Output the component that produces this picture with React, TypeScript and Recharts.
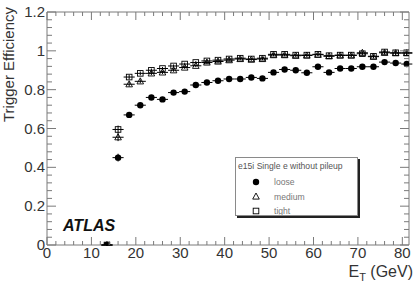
import { ErrorBar, Legend, ReferenceArea, Scatter, ScatterChart, XAxis, YAxis } from 'recharts'

// E_T bin centres (GeV) and trigger efficiencies
const etBins = [13.5, 16, 18.5, 21, 23.5, 26, 28.5, 31, 33.5, 36, 38.5, 41, 43.5, 46, 48.5, 51, 53.5, 56, 58.5, 61, 63.5, 66, 68.5, 71, 73.5, 76, 78.5, 81]
const looseEff = [0.0, 0.45, 0.67, 0.72, 0.76, 0.75, 0.785, 0.79, 0.824, 0.837, 0.846, 0.855, 0.855, 0.863, 0.858, 0.889, 0.904, 0.9, 0.887, 0.918, 0.889, 0.909, 0.909, 0.918, 0.918, 0.942, 0.937, 0.932]
const mediumEff = [0.0, 0.555, 0.828, 0.843, 0.884, 0.889, 0.9, 0.914, 0.923, 0.94, 0.945, 0.952, 0.958, 0.955, 0.958, 0.978, 0.978, 0.975, 0.976, 0.98, 0.972, 0.976, 0.976, 0.99, 0.97, 0.99, 0.988, 0.988]
const tightEff = [0.0, 0.595, 0.865, 0.884, 0.9, 0.909, 0.922, 0.932, 0.94, 0.948, 0.952, 0.958, 0.962, 0.958, 0.962, 0.982, 0.982, 0.978, 0.978, 0.982, 0.975, 0.978, 0.978, 0.985, 0.972, 0.994, 0.99, 0.99]
const effErr = [0.005, 0.02, 0.012, 0.01, 0.009, 0.008, 0.008, 0.007, 0.007, 0.006, 0.006, 0.006, 0.006, 0.006, 0.006, 0.006, 0.006, 0.006, 0.007, 0.007, 0.007, 0.008, 0.008, 0.008, 0.009, 0.009, 0.01, 0.012]
const binHalfWidth = 1.25

const legendTitle = 'e15i Single e without pileup'
const seriesNames = ['loose', 'medium', 'tight']

const xTicks = [0, 2, 4, 6, 8, 10, 12, 14, 16, 18, 20, 22, 24, 26, 28, 30, 32, 34, 36, 38, 40, 42, 44, 46, 48, 50, 52, 54, 56, 58, 60, 62, 64, 66, 68, 70, 72, 74, 76, 78, 80]
const yTicks = Array.from({ length: 31 }, (_, i) => Math.round(i * 4) / 100)

const W = 415
const H = 282
const TOP = 12
const BOTTOM = 245
const LEFT = 47
const RIGHT = 409
const FRAME = '#7a7a7a'
const INK = '#333'
const FONT = '"Liberation Sans", Arial, sans-serif'

const toPoints = (vals: number[]) =>
  etBins.map((x, i) => ({ x, y: vals[i], ex: binHalfWidth, ey: effErr[i] }))

function Marker({ kind, cx, cy }: { kind: string; cx: number; cy: number }) {
  if (kind === 'loose') return <circle cx={cx} cy={cy} r={3.2} fill="#000" />
  if (kind === 'medium')
    return (
      <path
        d={`M${cx},${cy - 3.5} L${cx + 3.3},${cy + 2.6} L${cx - 3.3},${cy + 2.6} Z`}
        fill="none"
        stroke="#000"
        strokeWidth={0.9}
      />
    )
  return <rect x={cx - 2.8} y={cy - 2.8} width={5.6} height={5.6} fill="none" stroke="#000" strokeWidth={0.9} />
}

function XTick(props: any) {
  const { x, payload } = props
  const v = payload.value
  const major = v % 10 === 0
  const len = major ? 8 : 4
  return (
    <g>
      <line x1={x} x2={x} y1={BOTTOM} y2={BOTTOM - len} stroke={FRAME} />
      <line x1={x} x2={x} y1={TOP} y2={TOP + len} stroke={FRAME} />
      {major && (
        <text x={x} y={BOTTOM + 13} textAnchor="middle" fontSize={15} fontFamily={FONT} fill={INK}>
          {v}
        </text>
      )}
    </g>
  )
}

function YTick(props: any) {
  const { y, payload } = props
  const v = payload.value
  const major = Math.abs(v * 5 - Math.round(v * 5)) < 1e-6
  const len = major ? 9 : 5
  return (
    <g>
      <line x1={LEFT} x2={LEFT + len} y1={y} y2={y} stroke={FRAME} />
      <line x1={RIGHT} x2={RIGHT - len} y1={y} y2={y} stroke={FRAME} />
      {major && (
        <text x={LEFT - 2} y={y + 5} textAnchor="end" fontSize={15} fontFamily={FONT} fill={INK}>
          {String(Math.round(v * 10) / 10)}
        </text>
      )}
    </g>
  )
}

function LegendBox() {
  return (
    <div
      style={{
        width: 121,
        height: 57,
        border: '1px solid #8a8a8a',
        boxShadow: '2px 2px 0 #222',
        background: '#fff',
      }}
    >
      <svg width={121} height={57}>
        <text x={2} y={11} fontSize={8.6} fontFamily={FONT} fill="#555">
          {legendTitle}
        </text>
        {seriesNames.map((name, i) => (
          <g key={name}>
            <Marker kind={name} cx={20} cy={24 + i * 14.5} />
            <text x={38} y={27 + i * 14.5} fontSize={8.6} fontFamily={FONT} fill="#777">
              {name}
            </text>
          </g>
        ))}
      </svg>
    </div>
  )
}

export default function App() {
  return (
    <div style={{ position: 'absolute', left: 0, top: 0, background: '#fff' }}>
      <ScatterChart width={W} height={H} margin={{ top: TOP, right: W - RIGHT, left: 0, bottom: 0 }}>
        <XAxis
          type="number"
          dataKey="x"
          domain={[0, 81.5]}
          allowDataOverflow
          ticks={xTicks}
          interval={0}
          height={H - BOTTOM}
          tickSize={0}
          tickMargin={0}
          tickLine={false}
          axisLine={false}
          tick={XTick}
          label={{
            content: () => (
              <g fontFamily={FONT}>
                <text x={413} y={277} textAnchor="end" fontSize={16} fill={INK}>
                  E
                  <tspan fontSize={11} dy={4}>T</tspan>
                  <tspan dy={-4}> (GeV)</tspan>
                </text>
                <text x={63} y={231} fontSize={16} fontWeight="bold" fontStyle="italic" fill="#111">
                  ATLAS
                </text>
              </g>
            ),
          }}
        />
        <YAxis
          type="number"
          dataKey="y"
          domain={[0, 1.2]}
          allowDataOverflow
          ticks={yTicks}
          interval={0}
          width={LEFT}
          tickSize={0}
          tickMargin={0}
          tickLine={false}
          axisLine={false}
          tick={YTick}
          label={{
            content: () => (
              <text
                x={14}
                y={7}
                textAnchor="end"
                transform="rotate(-90, 14, 7)"
                fontSize={15}
                fontFamily={FONT}
                fill={INK}
              >
                Trigger Efficiency
              </text>
            ),
          }}
        />
        <ReferenceArea x1={0} x2={81.5} y1={0} y2={1.2} fill="none" stroke={FRAME} strokeWidth={1} />
        <Scatter
          name="tight"
          data={toPoints(tightEff)}
          isAnimationActive={false}
          shape={(p: any) => <Marker kind="tight" cx={p.cx} cy={p.cy} />}
        >
          <ErrorBar dataKey="ex" direction="x" width={0} stroke="#000" strokeWidth={1} />
          <ErrorBar dataKey="ey" direction="y" width={0} stroke="#000" strokeWidth={1} />
        </Scatter>
        <Scatter
          name="medium"
          data={toPoints(mediumEff)}
          isAnimationActive={false}
          shape={(p: any) => <Marker kind="medium" cx={p.cx} cy={p.cy} />}
        >
          <ErrorBar dataKey="ex" direction="x" width={0} stroke="#000" strokeWidth={1} />
          <ErrorBar dataKey="ey" direction="y" width={0} stroke="#000" strokeWidth={1} />
        </Scatter>
        <Scatter
          name="loose"
          data={toPoints(looseEff)}
          isAnimationActive={false}
          shape={(p: any) => <Marker kind="loose" cx={p.cx} cy={p.cy} />}
        >
          <ErrorBar dataKey="ex" direction="x" width={0} stroke="#000" strokeWidth={1} />
          <ErrorBar dataKey="ey" direction="y" width={0} stroke="#000" strokeWidth={1} />
        </Scatter>
        <Legend
          layout="vertical"
          align="center"
          verticalAlign="middle"
          wrapperStyle={{ left: 235, top: 157, width: 123, height: 59 }}
          content={LegendBox}
        />
      </ScatterChart>
    </div>
  )
}
